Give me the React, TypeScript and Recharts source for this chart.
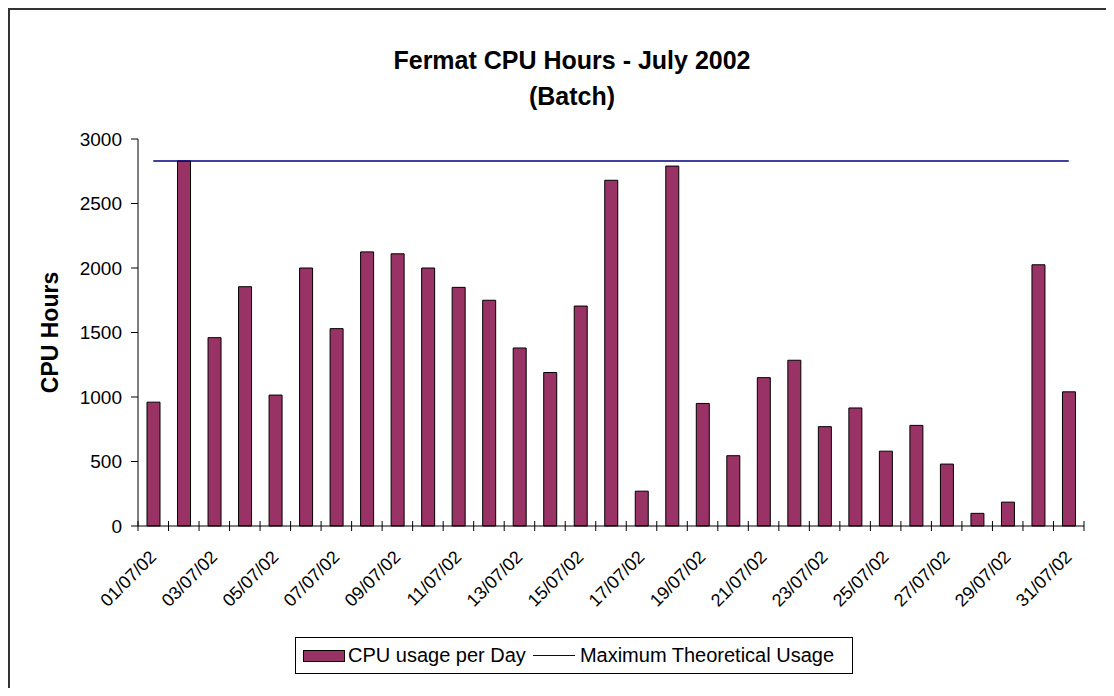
import { ComposedChart, Bar, Line, XAxis, YAxis, Label } from "recharts"

const DAYS = [
  "01/07/02", "02/07/02", "03/07/02", "04/07/02", "05/07/02", "06/07/02", "07/07/02", "08/07/02",
  "09/07/02", "10/07/02", "11/07/02", "12/07/02", "13/07/02", "14/07/02", "15/07/02", "16/07/02",
  "17/07/02", "18/07/02", "19/07/02", "20/07/02", "21/07/02", "22/07/02", "23/07/02", "24/07/02",
  "25/07/02", "26/07/02", "27/07/02", "28/07/02", "29/07/02", "30/07/02", "31/07/02",
]
const CPU_HOURS = [
  960, 2830, 1460, 1855, 1015, 2000, 1530, 2125, 2110, 2000, 1850, 1750, 1380, 1190, 1705, 2680,
  270, 2790, 950, 545, 1150, 1285, 770, 915, 580, 780, 480, 98, 185, 2025, 1040,
]
const MAX_THEORETICAL = 2830
const Y_TICKS = [0, 500, 1000, 1500, 2000, 2500, 3000]

const FONT = "'Liberation Sans', Arial, sans-serif"
const W = 1098
const H = 680
const MARGIN = { top: 131, right: 22, bottom: 0, left: 0 }
const Y_AXIS_W = 130
const BAND = (W - MARGIN.left - MARGIN.right - Y_AXIS_W) / DAYS.length

const data = DAYS.map((day, i) => ({ day, cpu: CPU_HOURS[i], max: MAX_THEORETICAL }))

// excel style: tick marks between categories, label on every other day
function DayTick(props: any) {
  const { x, y, index, payload } = props
  const left = x - BAND / 2
  const tx = x - 5
  const ty = y + 23
  return (
    <g>
      <line x1={left} x2={left} y1={y - 5} y2={y + 5} stroke="#000" />
      {index === DAYS.length - 1 && (
        <line x1={x + BAND / 2} x2={x + BAND / 2} y1={y - 5} y2={y + 5} stroke="#000" />
      )}
      {index % 2 === 0 && (
        <text
          x={tx}
          y={ty}
          dy="0.72em"
          transform={`rotate(-45 ${tx} ${ty})`}
          textAnchor="end"
          fontSize={18}
          fontFamily={FONT}
          fill="#000"
        >
          {payload.value}
        </text>
      )}
    </g>
  )
}

function AxisTitle({ viewBox }: any) {
  const cx = 42
  const cy = viewBox.y + viewBox.height / 2
  return (
    <text
      x={cx}
      y={cy}
      transform={`rotate(-90 ${cx} ${cy})`}
      textAnchor="middle"
      dominantBaseline="central"
      fontSize={23}
      fontWeight="bold"
      fontFamily={FONT}
      fill="#000"
    >
      CPU Hours
    </text>
  )
}

export default function App() {
  return (
    <div style={{ position: "relative", width: W, height: H, overflow: "hidden", fontFamily: FONT, background: "#fff" }}>
      <div
        style={{
          position: "absolute", left: 0, top: 0, width: W + 10, height: H + 10,
          borderLeft: "2px solid #333", borderTop: "2px solid #333", boxSizing: "border-box",
        }}
      />
      <div
        style={{
          position: "absolute", left: 264, top: 34, width: 600, textAlign: "center",
          fontSize: 25, fontWeight: "bold", lineHeight: "36px", color: "#000",
        }}
      >
        Fermat CPU Hours - July 2002
        <br />
        (Batch)
      </div>
      <div style={{ position: "absolute", left: 0, top: 0 }}>
        <ComposedChart width={W} height={H} data={data} margin={MARGIN}>
          <XAxis
            dataKey="day"
            interval={0}
            tick={<DayTick />}
            tickLine={false}
            tickSize={0}
            tickMargin={0}
            height={162}
            axisLine={{ stroke: "#000" }}
          />
          <YAxis
            domain={[0, 3000]}
            ticks={Y_TICKS}
            width={Y_AXIS_W}
            tickSize={7}
            tickMargin={9}
            tick={{ fontSize: 19, fill: "#000", fontFamily: FONT }}
            axisLine={{ stroke: "#000" }}
            tickLine={{ stroke: "#000" }}
          >
            <Label content={<AxisTitle />} />
          </YAxis>
          <Bar dataKey="cpu" fill="#993366" stroke="#000" strokeWidth={1} barSize={13} isAnimationActive={false} />
          <Line
            type="linear"
            dataKey="max"
            stroke="#000080"
            strokeWidth={1.5}
            dot={false}
            activeDot={false}
            isAnimationActive={false}
          />
        </ComposedChart>
      </div>
      <div
        style={{
          position: "absolute", left: 287, top: 629, width: 558, height: 37, boxSizing: "border-box",
          border: "1px solid #000", display: "flex", alignItems: "center", fontSize: 20, color: "#000",
          paddingLeft: 7, whiteSpace: "nowrap",
        }}
      >
        <span style={{ display: "inline-block", width: 42, height: 12, background: "#993366", border: "1.5px solid #000", boxSizing: "border-box" }} />
        <span style={{ marginLeft: 3 }}>CPU usage per Day</span>
        <span style={{ display: "inline-block", width: 42, height: 0, borderTop: "1.5px solid #000080", marginLeft: 7 }} />
        <span style={{ marginLeft: 5 }}>Maximum Theoretical Usage</span>
      </div>
    </div>
  )
}
